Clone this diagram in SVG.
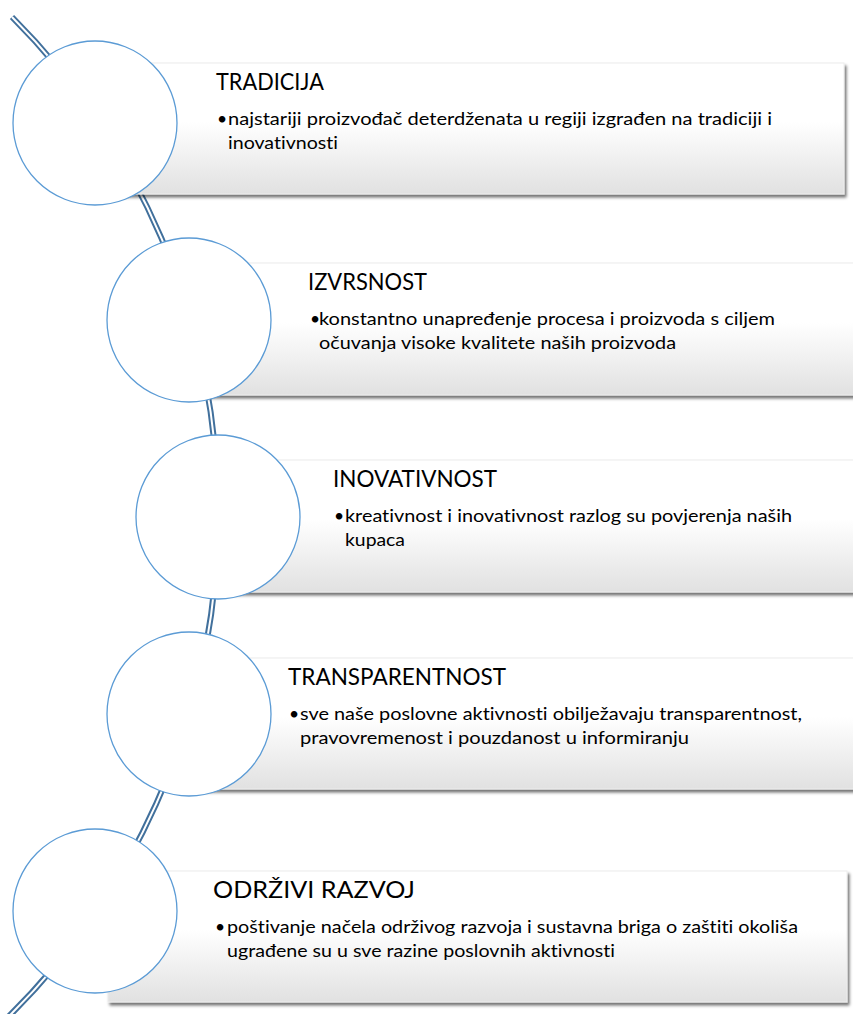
<svg xmlns="http://www.w3.org/2000/svg" width="853" height="1014" viewBox="0 0 853 1014">
<defs>
<style>
.box{fill:url(#bg);stroke:#ececec;stroke-width:1;filter:url(#sh)}
.cir{fill:#fff;stroke:#5b9bd5;stroke-width:1.3}
.title{font-family:Lato,"Liberation Sans",sans-serif;font-size:22.5px;fill:#000;font-variant-ligatures:none;font-feature-settings:"liga" 0}
.body{font-family:Lato,"Liberation Sans",sans-serif;font-size:17.5px;fill:#000;font-variant-ligatures:none;font-feature-settings:"liga" 0}
.spine-out{fill:none;stroke:#41709c;stroke-width:6}
.spine-in{fill:none;stroke:#fff;stroke-width:2}
</style>
<linearGradient id="bg" x1="0" y1="0" x2="0" y2="1">
<stop offset="0" stop-color="#ffffff"/>
<stop offset="0.45" stop-color="#ffffff"/>
<stop offset="1" stop-color="#e1e1e1"/>
</linearGradient>
<filter id="sh" x="-5%" y="-10%" width="115%" height="130%">
<feGaussianBlur in="SourceAlpha" stdDeviation="1.8"/>
<feOffset dx="2" dy="3" result="o"/>
<feFlood flood-color="#000" flood-opacity="0.55"/>
<feComposite in2="o" operator="in"/>
<feMerge><feMergeNode/><feMergeNode in="SourceGraphic"/></feMerge>
</filter>
</defs>
<rect width="853" height="1014" fill="#fff"/>
<g id="connectors">
<path class="spine-out" d="M 12 17 A 705 705 0 0 1 3 1022"/>
<path class="spine-in" d="M 12 17 A 705 705 0 0 1 3 1022"/>
</g>
<g id="node-tradicija">
<rect class="box" x="108" y="63" width="736" height="131"/>
<circle class="cir" cx="95" cy="123" r="82"/>
<text class="title" x="216" y="90" textLength="108" lengthAdjust="spacingAndGlyphs">TRADICIJA</text>
<text class="body" x="217" y="125">•</text>
<text class="body" x="228" y="125" textLength="544" lengthAdjust="spacingAndGlyphs">najstariji proizvođač deterdženata u regiji izgrađen na tradiciji i</text>
<text class="body" x="228" y="149" textLength="110" lengthAdjust="spacingAndGlyphs">inovativnosti</text>
</g>
<g id="node-izvrsnost">
<rect class="box" x="202" y="263" width="700" height="132"/>
<circle class="cir" cx="189" cy="320" r="82"/>
<text class="title" x="308" y="290" textLength="119" lengthAdjust="spacingAndGlyphs">IZVRSNOST</text>
<text class="body" x="310" y="325">•</text>
<text class="body" x="319" y="325" textLength="456" lengthAdjust="spacingAndGlyphs">konstantno unapređenje procesa i proizvoda s ciljem</text>
<text class="body" x="319" y="349" textLength="357" lengthAdjust="spacingAndGlyphs">očuvanja visoke kvalitete naših proizvoda</text>
</g>
<g id="node-inovativnost">
<rect class="box" x="231" y="460" width="700" height="132"/>
<circle class="cir" cx="218" cy="517" r="82"/>
<text class="title" x="333" y="487" textLength="164" lengthAdjust="spacingAndGlyphs">INOVATIVNOST</text>
<text class="body" x="334" y="522">•</text>
<text class="body" x="345" y="522" textLength="447" lengthAdjust="spacingAndGlyphs">kreativnost i inovativnost razlog su povjerenja naših</text>
<text class="body" x="345" y="546" textLength="60" lengthAdjust="spacingAndGlyphs">kupaca</text>
</g>
<g id="node-transparentnost">
<rect class="box" x="202" y="658" width="700" height="131"/>
<circle class="cir" cx="189" cy="714" r="82"/>
<text class="title" x="288" y="685" textLength="218" lengthAdjust="spacingAndGlyphs">TRANSPARENTNOST</text>
<text class="body" x="289" y="720">•</text>
<text class="body" x="300" y="720" textLength="502" lengthAdjust="spacingAndGlyphs">sve naše poslovne aktivnosti obilježavaju transparentnost,</text>
<text class="body" x="300" y="744" textLength="389" lengthAdjust="spacingAndGlyphs">pravovremenost i pouzdanost u informiranju</text>
</g>
<g id="node-odrzivi-razvoj">
<rect class="box" x="108" y="871" width="739" height="131"/>
<circle class="cir" cx="95" cy="911" r="82"/>
<text class="title" x="213" y="898" textLength="202" lengthAdjust="spacingAndGlyphs">ODRŽIVI RAZVOJ</text>
<text class="body" x="215" y="933">•</text>
<text class="body" x="227" y="933" textLength="571" lengthAdjust="spacingAndGlyphs">poštivanje načela održivog razvoja i sustavna briga o zaštiti okoliša</text>
<text class="body" x="227" y="957" textLength="388" lengthAdjust="spacingAndGlyphs">ugrađene su u sve razine poslovnih aktivnosti</text>
</g>
</svg>
